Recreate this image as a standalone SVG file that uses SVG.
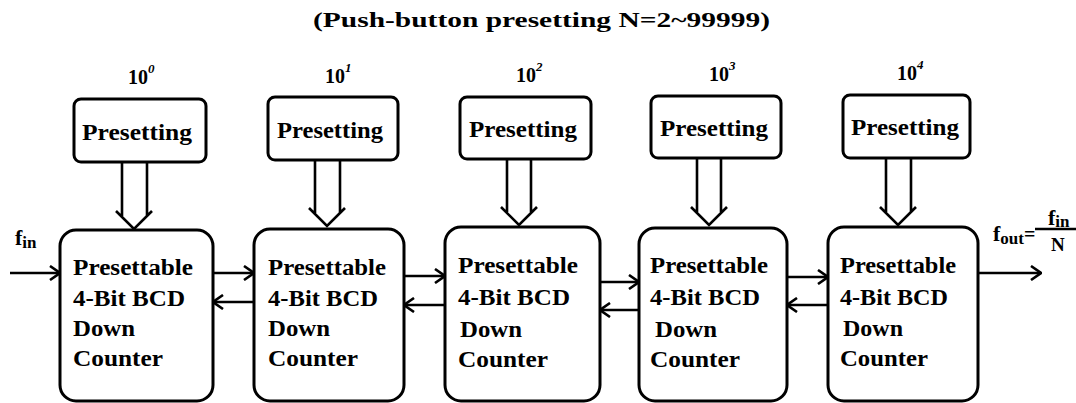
<svg xmlns="http://www.w3.org/2000/svg" width="1076" height="403" viewBox="0 0 1076 403">
<defs>
<marker id="ah" viewBox="0 0 12 16" refX="11" refY="8" markerWidth="12" markerHeight="16" markerUnits="userSpaceOnUse" orient="auto">
<path d="M1,1 L11,8 L1,15" fill="none" stroke="#000" stroke-width="2.6"/>
</marker>
</defs>
<style>
.bx{fill:#fff;stroke:#000;stroke-width:3}
.t{font-family:"Liberation Serif","Times New Roman",serif;font-weight:bold;fill:#000}
.ct{font-size:23px}
.pt{font-size:23px}
.sp{font-size:20px}
.su{font-size:13px;font-style:italic}
.ln{stroke:#000;stroke-width:2.6;fill:none}
</style>
<rect width="1076" height="403" fill="#fff"/>
<text class="t" x="313" y="27" font-size="22" textLength="457" lengthAdjust="spacingAndGlyphs">(Push-button presetting N=2~99999)</text>

<g id="p0">
<rect class="bx" x="74" y="99" width="132" height="63" rx="7"/>
<text class="t pt" x="82" y="140" textLength="110" lengthAdjust="spacingAndGlyphs">Presetting</text>
<text class="t sp" x="128" y="84">10<tspan class="su" dy="-11">0</tspan></text>
</g>
<g id="p1">
<rect class="bx" x="268" y="97" width="130" height="63" rx="7"/>
<text class="t pt" x="277" y="138" textLength="106" lengthAdjust="spacingAndGlyphs">Presetting</text>
<text class="t sp" x="325" y="83">10<tspan class="su" dy="-11">1</tspan></text>
</g>
<g id="p2">
<rect class="bx" x="460" y="97" width="131" height="62" rx="7"/>
<text class="t pt" x="469" y="137" textLength="108" lengthAdjust="spacingAndGlyphs">Presetting</text>
<text class="t sp" x="516" y="82">10<tspan class="su" dy="-11">2</tspan></text>
</g>
<g id="p3">
<rect class="bx" x="651" y="96" width="130" height="62" rx="7"/>
<text class="t pt" x="660" y="136" textLength="108" lengthAdjust="spacingAndGlyphs">Presetting</text>
<text class="t sp" x="709" y="81">10<tspan class="su" dy="-11">3</tspan></text>
</g>
<g id="p4">
<rect class="bx" x="843" y="95" width="127" height="63" rx="7"/>
<text class="t pt" x="851" y="135" textLength="108" lengthAdjust="spacingAndGlyphs">Presetting</text>
<text class="t sp" x="897" y="80">10<tspan class="su" dy="-11">4</tspan></text>
</g>

<g id="c0">
<rect class="bx" x="60" y="230" width="153" height="171" rx="16"/>
<text class="t ct" x="73" y="275" textLength="120" lengthAdjust="spacingAndGlyphs">Presettable</text>
<text class="t ct" x="73" y="306" textLength="112" lengthAdjust="spacingAndGlyphs">4-Bit BCD</text>
<text class="t ct" x="73" y="336" textLength="62" lengthAdjust="spacingAndGlyphs">Down</text>
<text class="t ct" x="73" y="366" textLength="90" lengthAdjust="spacingAndGlyphs">Counter</text>
</g>
<g id="c1">
<rect class="bx" x="254" y="229" width="150" height="172" rx="16"/>
<text class="t ct" x="268" y="275" textLength="118" lengthAdjust="spacingAndGlyphs">Presettable</text>
<text class="t ct" x="268" y="306" textLength="110" lengthAdjust="spacingAndGlyphs">4-Bit BCD</text>
<text class="t ct" x="268" y="336" textLength="62" lengthAdjust="spacingAndGlyphs">Down</text>
<text class="t ct" x="268" y="366" textLength="90" lengthAdjust="spacingAndGlyphs">Counter</text>
</g>
<g id="c2">
<rect class="bx" x="445" y="227" width="155" height="174" rx="16"/>
<text class="t ct" x="458" y="273" textLength="120" lengthAdjust="spacingAndGlyphs">Presettable</text>
<text class="t ct" x="458" y="305" textLength="112" lengthAdjust="spacingAndGlyphs">4-Bit BCD</text>
<text class="t ct" x="460" y="337" textLength="62" lengthAdjust="spacingAndGlyphs">Down</text>
<text class="t ct" x="458" y="367" textLength="90" lengthAdjust="spacingAndGlyphs">Counter</text>
</g>
<g id="c3">
<rect class="bx" x="639" y="228" width="148" height="173" rx="16"/>
<text class="t ct" x="650" y="273" textLength="118" lengthAdjust="spacingAndGlyphs">Presettable</text>
<text class="t ct" x="650" y="305" textLength="110" lengthAdjust="spacingAndGlyphs">4-Bit BCD</text>
<text class="t ct" x="655" y="337" textLength="62" lengthAdjust="spacingAndGlyphs">Down</text>
<text class="t ct" x="650" y="367" textLength="90" lengthAdjust="spacingAndGlyphs">Counter</text>
</g>
<g id="c4">
<rect class="bx" x="828" y="227" width="150" height="174" rx="16"/>
<text class="t ct" x="840" y="273" textLength="116" lengthAdjust="spacingAndGlyphs">Presettable</text>
<text class="t ct" x="840" y="305" textLength="108" lengthAdjust="spacingAndGlyphs">4-Bit BCD</text>
<text class="t ct" x="843" y="336" textLength="60" lengthAdjust="spacingAndGlyphs">Down</text>
<text class="t ct" x="840" y="366" textLength="88" lengthAdjust="spacingAndGlyphs">Counter</text>
</g>

<g id="labels">
<text class="t" x="15" y="245" font-size="22">f<tspan font-size="17" dy="3">in</tspan></text>
<text class="t" x="993" y="241" font-size="22">f<tspan font-size="17" dy="3">out</tspan><tspan font-size="20" dy="-3">=</tspan></text>
<text class="t" x="1048" y="225" font-size="22">f<tspan font-size="17" dy="2">in</tspan></text>
<text class="t" x="1051" y="251" font-size="19">N</text>
<line class="ln" x1="1035" y1="229" x2="1076" y2="229" stroke-width="2"/>
</g>

<g id="connectors">
<line class="ln" x1="10" y1="273" x2="60" y2="273" marker-end="url(#ah)"/>
<line class="ln" x1="978" y1="273" x2="1041" y2="273" marker-end="url(#ah)"/>
<line class="ln" x1="213" y1="273" x2="254" y2="273" marker-end="url(#ah)"/>
<line class="ln" x1="254" y1="302" x2="213" y2="302" marker-end="url(#ah)"/>
<line class="ln" x1="404" y1="276" x2="445" y2="276" marker-end="url(#ah)"/>
<line class="ln" x1="445" y1="305" x2="404" y2="305" marker-end="url(#ah)"/>
<line class="ln" x1="600" y1="282" x2="639" y2="282" marker-end="url(#ah)"/>
<line class="ln" x1="639" y1="310" x2="600" y2="310" marker-end="url(#ah)"/>
<line class="ln" x1="787" y1="277" x2="828" y2="277" marker-end="url(#ah)"/>
<line class="ln" x1="828" y1="305" x2="787" y2="305" marker-end="url(#ah)"/>
<path class="ln" d="M122,162 V216 M147,162 V216 M116,211 L134,229 L152,211"/>
<path class="ln" d="M315,160 V213 M340,160 V213 M309,208 L327,226 L345,208"/>
<path class="ln" d="M507,159 V212 M531,159 V212 M501,207 L519,225 L537,207"/>
<path class="ln" d="M697,158 V212 M721,158 V212 M691,207 L709,225 L727,207"/>
<path class="ln" d="M886,158 V212 M911,158 V212 M880,207 L898,225 L916,207"/>
</g>
</svg>
